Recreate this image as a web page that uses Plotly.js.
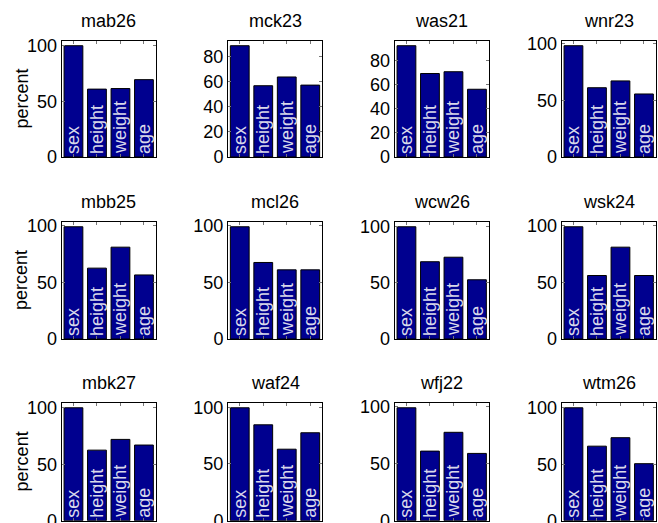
<!DOCTYPE html>
<html>
<head>
<meta charset="utf-8">
<script src="https://cdn.plot.ly/plotly-3.0.1.min.js"></script>
<style>html,body{margin:0;padding:0;background:#fff;}#chart{width:658px;height:523px;}</style>
</head>
<body>
<div id="chart"></div>
<script>
// ---- data ----
const categories = ['sex', 'height', 'weight', 'age'];
const panelNames = ['mab26', 'mck23', 'was21', 'wnr23',
                    'mbb25', 'mcl26', 'wcw26', 'wsk24',
                    'mbk27', 'waf24', 'wfj22', 'wtm26'];
const mab26 = [100, 61, 61.5, 69.5];
const mck23 = [89, 57, 64, 57.5];
const was21 = [92, 69, 70.5, 56];
const wnr23 = [98, 61, 67, 55.5];
const mbb25 = [99, 62.5, 81, 56.5];
const mcl26 = [99, 67.5, 61, 61];
const wcw26 = [99.5, 68.5, 72.5, 52.5];
const wsk24 = [99, 56, 81, 56];
const mbk27 = [100, 62.5, 72, 67];
const waf24 = [99.5, 84.5, 63, 77.5];
const wfj22 = [99, 61, 77.5, 59];
const wtm26 = [100, 66, 73.5, 50.5];
const panelValues = [mab26, mck23, was21, wnr23, mbb25, mcl26, wcw26, wsk24, mbk27, waf24, wfj22, wtm26];
const yTickStep = [50, 20, 20, 50, 50, 50, 50, 50, 50, 50, 50, 50];
const yLabel = 'percent';

// ---- layout geometry (pixels) ----
const W = 658, H = 523;
const colLeft = [61.7, 228, 394.7, 561.7];
const colWidth = 94;
const rowTop = [40.7, 221.7, 402.7];
const rowBottom = [157, 339, 520.7];
const FONT = 'Liberation Sans, Arial, Helvetica, sans-serif';

const data = [];
const layout = {
  width: W, height: H,
  margin: {l: 0, r: 0, t: 0, b: 0},
  paper_bgcolor: '#ffffff',
  plot_bgcolor: '#ffffff',
  showlegend: false,
  bargap: 0.2,
  font: {family: FONT, size: 18, color: '#000'},
  annotations: []
};

panelNames.forEach((name, i) => {
  const r = Math.floor(i / 4), c = i % 4;
  const ax = i === 0 ? '' : String(i + 1);
  const vals = panelValues[i];
  const vmax = Math.max(...vals);
  data.push({
    type: 'bar',
    x: categories,
    y: vals,
    xaxis: 'x' + ax,
    yaxis: 'y' + ax,
    marker: {color: '#00008f', line: {color: '#000000', width: 1}},
    text: categories,
    textposition: 'inside',
    insidetextanchor: 'start',
    textangle: -90,
    constraintext: 'none',
    textfont: {family: FONT, size: 18, color: '#d8d8ea'},
    hoverinfo: 'x+y'
  });
  const xd = [colLeft[c] / W, (colLeft[c] + colWidth) / W];
  const yd = [1 - rowBottom[r] / H, 1 - rowTop[r] / H];
  layout['xaxis' + ax] = {
    domain: xd,
    anchor: 'y' + ax,
    type: 'category',
    range: [-0.5, 3.5],
    showticklabels: false,
    ticks: 'inside', ticklen: 3, tickcolor: '#777', tickwidth: 1,
    showline: true, linecolor: '#000', linewidth: 1, mirror: 'ticks',
    showgrid: false, zeroline: false, fixedrange: true
  };
  layout['yaxis' + ax] = {
    domain: yd,
    anchor: 'x' + ax,
    range: [0, vmax * 1.045],
    dtick: yTickStep[i], tick0: 0,
    ticks: 'inside', ticklen: 3, tickcolor: '#777', tickwidth: 1,
    ticklabeloverflow: 'allow',
    tickfont: {family: FONT, size: 18, color: '#000'},
    showline: true, linecolor: '#000', linewidth: 1, mirror: 'ticks',
    showgrid: false, zeroline: false, fixedrange: true
  };
  if (c === 0) {
    // y-axis label "percent", placed as in the reference
    layout.annotations.push({
      text: yLabel,
      xref: 'paper', yref: 'paper',
      x: 21.7 / W, y: (yd[0] + yd[1]) / 2,
      xanchor: 'center', yanchor: 'middle',
      textangle: -90,
      showarrow: false,
      font: {family: FONT, size: 18, color: '#000'}
    });
  }
  layout.annotations.push({
    text: name,
    xref: 'paper', yref: 'paper',
    x: (xd[0] + xd[1]) / 2, y: yd[1],
    xanchor: 'center', yanchor: 'middle',
    yshift: 20,
    showarrow: false,
    font: {family: FONT, size: 18, color: '#000'}
  });
});

Plotly.newPlot('chart', data, layout, {displayModeBar: false, staticPlot: true});
</script>
</body>
</html>
